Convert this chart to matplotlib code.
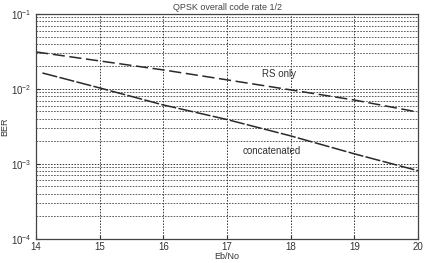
import matplotlib
matplotlib.use("Agg")
import matplotlib.pyplot as plt
from matplotlib.ticker import LogLocator, NullFormatter

plt.rcParams['font.family'] = ['Liberation Sans', 'DejaVu Sans']

ebno_rs = [14, 15, 16, 17, 18, 19, 20]
ber_rs = [0.0311, 0.0236, 0.0179, 0.0132, 0.0097, 0.0071, 0.0049]

ebno_cat = [14.1, 15, 16, 17, 18, 19, 20]
ber_cat = [0.0163, 0.0103, 0.0061, 0.0039, 0.00236, 0.00136, 0.00081]

xticks = [14, 15, 16, 17, 18, 19, 20]
xticklabels = ['14', '15', '16', '17', '18', '19', '20']

fig = plt.figure(figsize=(4.24, 2.63), dpi=100)
ax = fig.add_axes([0.085, 0.092, 0.901, 0.855])

ax.plot(ebno_rs, ber_rs, color='#2a2a2a', lw=1.1, linestyle=(0, (8, 3)))
ax.plot(ebno_cat, ber_cat, color='#2a2a2a', lw=1.1, linestyle=(0, (10, 1.5)))

ax.set_yscale('log')
ax.set_xlim(14, 20)
ax.set_ylim(1e-4, 1e-1)
ax.set_xticks(xticks)
ax.set_xticklabels(xticklabels)
ax.yaxis.set_major_locator(LogLocator(base=10, numticks=10))
ax.yaxis.set_minor_locator(LogLocator(base=10, subs=range(2, 10), numticks=20))
ax.yaxis.set_minor_formatter(NullFormatter())

ax.grid(True, which='major', color='#333333', linestyle=(0, (1.5, 1.5)), lw=0.7)
ax.grid(True, which='minor', axis='y', color='#444444', linestyle=(0, (2, 1.5)), lw=0.6)

ax.tick_params(axis='both', labelsize=7, colors='#333333', direction='in', length=3)
ax.tick_params(axis='x', pad=2)
ax.tick_params(which='minor', length=0)
for s in ax.spines.values():
    s.set_color('#444444')
    s.set_linewidth(0.9)

ax.set_title('QPSK overall code rate 1/2', fontsize=6.5, color='#444444', pad=3)
ax.set_xlabel('Eb/No', fontsize=6.5, color='#333333', labelpad=0)
ax.set_ylabel('BER', fontsize=6.5, color='#333333', labelpad=1)

ax.text(17.55, 0.0160, 'RS only', fontsize=7, color='#333333', ha='left', va='center')
ax.text(17.25, 0.00148, 'concatenated', fontsize=7, color='#333333', ha='left', va='center')

fig.savefig('out.png', dpi=100)
